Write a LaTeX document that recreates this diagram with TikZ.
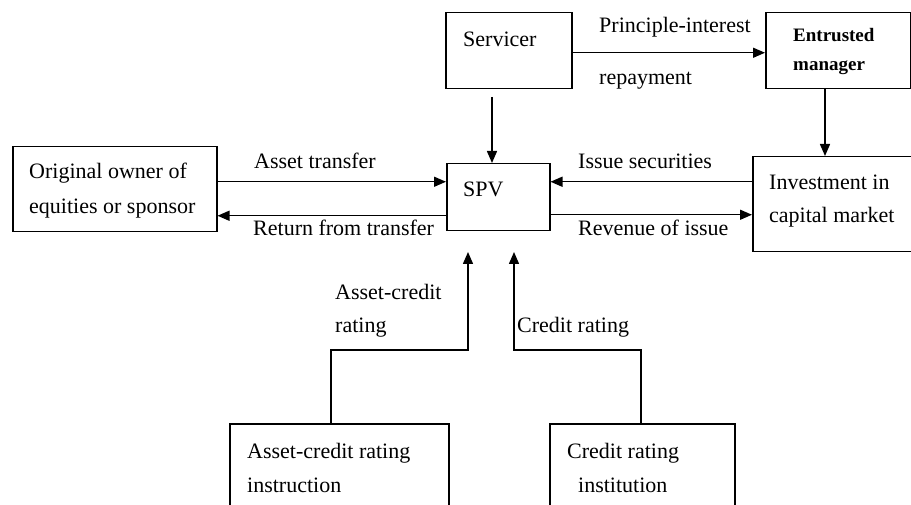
\documentclass[tikz,border=0pt]{standalone}
\usepackage{fontspec}
\setmainfont{Liberation Serif}
\usetikzlibrary{arrows.meta}

\begin{document}
\begin{tikzpicture}[x=1pt,y=-1pt]

	\tikzstyle box lines=[draw, line width=1.5pt, anchor=north west, inner sep=0pt];
	\tikzstyle flow lines=[line width=1.5pt, -{Triangle[length=12pt,width=10pt]}];
	\tikzstyle label text=[anchor=base west, inner sep=0pt, font=\fontsize{22}{26}\selectfont];
	\tikzstyle bold text=[anchor=base west, inner sep=0pt, font=\fontsize{19}{23}\selectfont\bfseries];

	\useasboundingbox (0,0) rectangle (911,505);
	\clip (0,0) rectangle (911,505);

	% boxes
	\node[box lines, minimum width=204, minimum height=85] (owner) at (12,146) {};
	\node[box lines, minimum width=126, minimum height=76] (servicer) at (445,12) {};
	\node[box lines, minimum width=145, minimum height=76] (manager) at (765,12) {};
	\node[box lines, minimum width=103, minimum height=67] (spv) at (446,163) {};
	\node[box lines, minimum width=170, minimum height=95] (market) at (752,156) {};
	\node[box lines, minimum width=219, minimum height=110] (instruction) at (229,423) {};
	\node[box lines, minimum width=185, minimum height=110] (institution) at (549,423) {};

	\node[label text] (owner1) at (29,179) {Original owner of};
	\node[label text] (owner2) at (29,214) {equities or sponsor};
	\node[label text] (servicer1) at (463,47) {Servicer};
	\node[bold text] (manager1) at (793,42) {Entrusted};
	\node[bold text] (manager2) at (793,71) {manager};
	\node[label text] (spv1) at (463,197) {SPV};
	\node[label text] (market1) at (769,190) {Investment in};
	\node[label text] (market2) at (769,223) {capital market};
	\node[label text] (instruction1) at (247,458) {Asset-credit rating};
	\node[label text] (instruction2) at (247,492) {instruction};
	\node[label text] (institution1) at (567,458) {Credit rating};
	\node[label text] (institution2) at (578,492) {institution};

	% flows
	\draw[flow lines] ([yshift=-2pt]servicer.east) -- ([yshift=-2pt]servicer.east -| manager.west);
		\node[label text] (repay1) at (599,33) {Principle-interest};
		\node[label text] (repay2) at (599,85) {repayment};

	\coordinate (servicer foot) at (492,97);
	\draw[flow lines] (servicer foot) -- (servicer foot |- spv.north);
	\draw[flow lines] ([xshift=60pt]manager.south west) -- ([xshift=60pt]manager.south west |- market.north);

	\draw[flow lines] ([yshift=7.5pt]owner.east) -- ([yshift=7.5pt]owner.east -| spv.west);
	\draw[flow lines] ([yshift=-26.5pt]owner.east -| spv.west) -- ([yshift=-26.5pt]owner.east);
		\node[label text] (transfer1) at (254,169) {Asset transfer};
		\node[label text] (transfer2) at (253,236) {Return from transfer};

	\draw[flow lines] ([yshift=22.5pt]market.west) -- ([yshift=22.5pt]market.west -| spv.east);
	\draw[flow lines] ([yshift=-10.5pt]market.west -| spv.east) -- ([yshift=-10.5pt]market.west);
		\node[label text] (issue1) at (578,169) {Issue securities};
		\node[label text] (issue2) at (578,236) {Revenue of issue};

	\coordinate (rating a) at (468,252);
	\coordinate (rating b) at (514,252);
	\coordinate (bend a) at (468,350);
	\coordinate (bend b) at (514,350);
	\draw[flow lines] ([xshift=102pt]instruction.north west) |- (bend a) -- (rating a);
	\draw[flow lines] ([xshift=92pt]institution.north west) |- (bend b) -- (rating b);
		\node[label text] (rating1) at (335,300) {Asset-credit};
		\node[label text] (rating2) at (335,332) {rating};
		\node[label text] (rating3) at (517,332) {Credit rating};

\end{tikzpicture}
\end{document}
